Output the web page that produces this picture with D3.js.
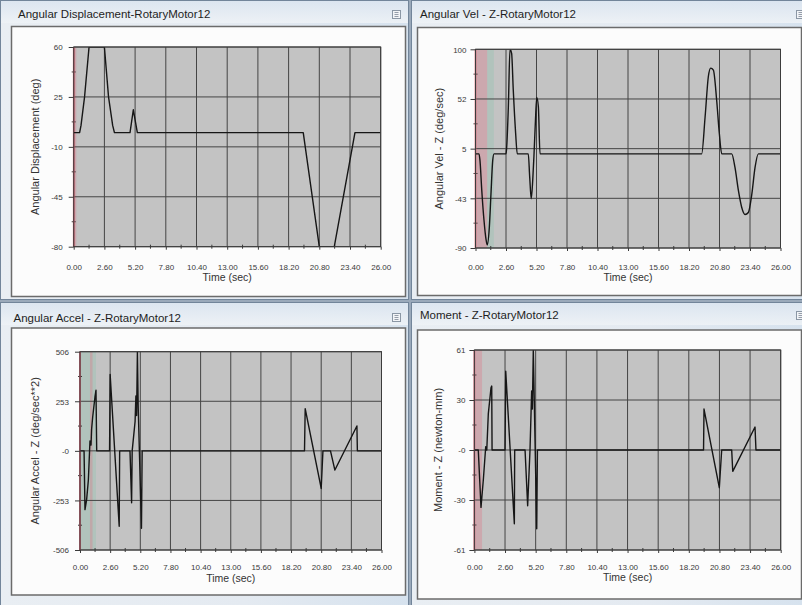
<!DOCTYPE html>
<html>
<head>
<meta charset="utf-8">
<script src="https://cdn.jsdelivr.net/npm/d3@7"></script>
<style>
  html, body { margin: 0; padding: 0; background: #9aa9ba; }
  svg { display: block; }
  text { font-family: "Liberation Sans", Arial, sans-serif; }
</style>
</head>
<body>
<svg id="chart" width="802" height="605"></svg>
<script>
// ---- Shared time axis -------------------------------------------------
const timeTicks = [0, 2.6, 5.2, 7.8, 10.4, 13, 15.6, 18.2, 20.8, 23.4, 26];
const timeTickLabels = ["0.00", "2.60", "5.20", "7.80", "10.40", "13.00", "15.60", "18.20", "20.80", "23.40", "26.00"];
const timeMinorTicks = [1.3, 3.9, 6.5, 9.1, 11.7, 14.3, 16.9, 19.5, 22.1, 24.7];

// ---- Angular displacement (deg) ---------------------------------------
const dispTime  = [0, 0.5, 0.62, 0.92, 1.3, 2.6, 2.95, 3.3, 3.45, 4.77, 5.05, 5.39, 19.44, 20.8, 22.07, 23.82, 26];
const dispValue = [0, 0, 5, 25, 60, 60, 25, 5, 0, 0, 16, 0, 0, -80, -80, 0, 0];
const dispTicks = [-80, -45, -10, 25, 60];
const dispTickLabels = ["-80", "-45", "-10", "25", "60"];

// ---- Angular velocity Z (deg/sec) -------------------------------------
const velTime  = [0, 0.3, 0.38, 0.53, 0.72, 0.9, 1.0, 1.18, 1.32, 1.47, 1.58,
                  2.6, 2.65, 2.8, 2.94, 3.08, 3.22, 3.42, 3.56,
                  4.5, 4.62, 4.75, 4.88, 4.99, 5.1, 5.22, 5.36, 5.5,
                  19.28, 19.57, 19.85, 20.05, 20.28, 20.56, 20.79, 20.99,
                  21.84, 22.12, 22.41, 22.69, 22.98, 23.26, 23.55, 23.83, 24.11, 26];
const velValue = [0, 0, -6, -34, -63, -82, -87, -70, -38, -6, 0,
                  0, 5, 45, 100, 96, 61, 20, 0,
                  0, -22, -43, -25, 0, 29, 54, 45, 0,
                  0, 35, 74, 82, 80, 51, 19, 0,
                  0, -13, -35, -51, -58, -56, -39, -13, 0, 0];
const velTicks = [-90, -42.5, 5, 52.5, 100];
const velTickLabels = ["-90", "-43", "5", "52", "100"];

// ---- Angular acceleration Z (deg/sec**2) ------------------------------
const accelTime  = [0, 0.35, 0.43, 0.57, 0.72, 0.86, 0.95, 1.0, 1.09, 1.29, 1.38, 1.44,
                    2.55, 2.6, 3.38, 3.42,
                    4.31, 4.45, 4.5, 4.75, 4.82, 4.88, 4.95, 5.02, 5.3, 5.36,
                    19.36, 19.42, 20.8, 20.95, 21.6, 21.98, 23.88, 23.92, 26];
const accelValue = [0, 0, -300, -250, -150, 50, 30, 110, 170, 275, 310, 0,
                    0, 390, -385, 0,
                    0, -265, 0, 150, 280, 180, 506, 220, -395, 0,
                    0, 215, -192, 0, 0, -98, 127, 0, 0];
const accelTicks = [-506, -253, 0, 253, 506];
const accelTickLabels = ["-506", "-253", "-0", "253", "506"];

// ---- Moment Z (newton-mm) ---------------------------------------------
const momentTime  = [0, 0.33, 0.56, 0.76, 0.96, 1.05, 1.18, 1.41, 1.47, 1.5,
                     2.6, 2.66, 3.39, 3.42,
                     4.3, 4.52, 4.72, 4.86, 4.92, 5.0, 5.29, 5.35,
                     19.45, 19.49, 20.79, 20.99, 21.84, 21.93, 23.82, 23.9, 26];
const momentValue = [0, 0, -35, -18, 2, 0, 22, 38, 39, 0,
                     0, 48, -45, 0,
                     0, -34, 0, 36, 25, 61, -48, 0,
                     0, 25, -23, 0, 0, -13, 14, 0, 0];
const momentTicks = [-61, -30.5, 0, 30.5, 61];
const momentTickLabels = ["-61", "-30", "-0", "30", "61"];

// ---- Time-cursor shading at the start of each run ---------------------
const dispMarks   = [{ from: 0, to: 0.22, tone: "pink" }];
const velMarks    = [{ from: 0, to: 1.0, tone: "pink" }, { from: 1.0, to: 1.57, tone: "teal" }];
const accelMarks  = [{ from: 0, to: 1.38, tone: "teal" }, { from: 0.86, to: 1.08, tone: "pink" }];
const momentMarks = [{ from: 0, to: 0.65, tone: "pink" }];

// ---- Window layout ----------------------------------------------------
const panels = [
  {
    title: "Angular Displacement-RotaryMotor12", yTitle: "Angular Displacement (deg)",
    time: dispTime, values: dispValue, domain: [-80, 60], ticks: dispTicks, tickLabels: dispTickLabels,
    marks: dispMarks, curve: d3.curveLinear,
    frame: { x: 0, y: 0, w: 409, h: 300 }, titleX: 18, titleY: 18, btnX: 392, btnY: 10,
    box: { x: 11.5, y: 26.5, w: 394, h: 270 },
    plot: { x0: 73.7, x1: 380.7, y0: 47, y1: 246.7 },
    yTitleX: 35, xLabelY: 269.6, xTitleY: 281, yLabelGap: 11
  },
  {
    title: "Angular Vel - Z-RotaryMotor12", yTitle: "Angular Vel - Z (deg/sec)",
    time: velTime, values: velValue, domain: [-90, 100], ticks: velTicks, tickLabels: velTickLabels,
    marks: velMarks, curve: d3.curveMonotoneX,
    frame: { x: 411, y: 0, w: 395, h: 300 }, titleX: 420, titleY: 18, btnX: 796, btnY: 10,
    box: { x: 417.5, y: 27.5, w: 384, h: 268 },
    plot: { x0: 475.5, x1: 780.5, y0: 49.3, y1: 248 },
    yTitleX: 439, xLabelY: 269.6, xTitleY: 280.5, yLabelGap: 9
  },
  {
    title: "Angular Accel - Z-RotaryMotor12", yTitle: "Angular Accel - Z (deg/sec**2)",
    time: accelTime, values: accelValue, domain: [-506, 506], ticks: accelTicks, tickLabels: accelTickLabels,
    marks: accelMarks, curve: d3.curveLinear,
    frame: { x: 0, y: 302, w: 409, h: 306 }, titleX: 13.5, titleY: 321.5, btnX: 392, btnY: 313,
    box: { x: 11.5, y: 328, w: 394, h: 267 },
    plot: { x0: 80, x1: 381.5, y0: 351.7, y1: 550 },
    yTitleX: 35, xLabelY: 569.6, xTitleY: 582, yLabelGap: 11
  },
  {
    title: "Moment - Z-RotaryMotor12", yTitle: "Moment - Z (newton-mm)",
    time: momentTime, values: momentValue, domain: [-61, 61], ticks: momentTicks, tickLabels: momentTickLabels,
    marks: momentMarks, curve: d3.curveLinear,
    frame: { x: 411, y: 302, w: 395, h: 306 }, titleX: 420, titleY: 319, btnX: 796, btnY: 311,
    box: { x: 417.5, y: 330, w: 384, h: 269 },
    plot: { x0: 474.4, x1: 780.7, y0: 350, y1: 550 },
    yTitleX: 438, xLabelY: 569.6, xTitleY: 580.5, yLabelGap: 9
  }
];

const toneFill = { pink: "#e07183", teal: "#86c7ab" };
const toneOpacity = { pink: 0.32, teal: 0.28 };

const svg = d3.select("#chart");
const defs = svg.append("defs");

const frameGrad = defs.append("linearGradient").attr("id", "frameGrad")
  .attr("x1", 0).attr("y1", 0).attr("x2", 1).attr("y2", 0);
frameGrad.append("stop").attr("offset", "0%").attr("stop-color", "#e9eef3");
frameGrad.append("stop").attr("offset", "60%").attr("stop-color", "#e4eaf1");
frameGrad.append("stop").attr("offset", "100%").attr("stop-color", "#d6e2ee");

const titleGrad = defs.append("linearGradient").attr("id", "titleGrad")
  .attr("x1", 0).attr("y1", 0).attr("x2", 0).attr("y2", 1);
titleGrad.append("stop").attr("offset", "0%").attr("stop-color", "#dbe5f0");
titleGrad.append("stop").attr("offset", "100%").attr("stop-color", "#eef2f6");

svg.append("rect").attr("width", 802).attr("height", 605).attr("fill", "#9aa9ba");

panels.forEach((p, i) => {
  const g = svg.append("g");
  const f = p.frame;

  // window frame and title bar
  g.append("rect").attr("x", f.x + 0.5).attr("y", f.y + 0.5).attr("width", f.w - 1).attr("height", f.h - 1)
    .attr("fill", "url(#frameGrad)").attr("stroke", "#72859a");
  g.append("rect").attr("x", f.x + 1).attr("y", f.y + 1).attr("width", f.w - 2).attr("height", 22)
    .attr("fill", "url(#titleGrad)").attr("opacity", 0.9);
  g.append("text").attr("x", p.titleX).attr("y", p.titleY)
    .attr("font-size", 11.5).attr("fill", "#1e1e1e").text(p.title);

  // small menu button at the right of the title bar
  g.append("rect").attr("x", p.btnX + 0.5).attr("y", p.btnY + 0.5).attr("width", 8).attr("height", 8)
    .attr("fill", "#f2f4f7").attr("stroke", "#8b97a5");
  [2.5, 4.5, 6.5].forEach(dy => {
    g.append("line").attr("x1", p.btnX + 2.5).attr("x2", p.btnX + 6.5)
      .attr("y1", p.btnY + dy).attr("y2", p.btnY + dy).attr("stroke", "#7c8794").attr("stroke-width", 0.8);
  });

  // white chart area
  g.append("rect").attr("x", p.box.x).attr("y", p.box.y).attr("width", p.box.w).attr("height", p.box.h)
    .attr("fill", "#fcfcfc").attr("stroke", "#6b6b6b").attr("stroke-width", 1.5);

  const pl = p.plot;
  const x = d3.scaleLinear().domain([0, 26]).range([pl.x0, pl.x1]);
  const y = d3.scaleLinear().domain(p.domain).range([pl.y1, pl.y0]);

  const clipId = "clip" + i;
  defs.append("clipPath").attr("id", clipId).append("rect")
    .attr("x", pl.x0).attr("y", pl.y0).attr("width", pl.x1 - pl.x0).attr("height", pl.y1 - pl.y0);

  const plotG = g.append("g");
  plotG.append("rect").attr("x", pl.x0).attr("y", pl.y0)
    .attr("width", pl.x1 - pl.x0).attr("height", pl.y1 - pl.y0).attr("fill", "#c3c3c3");

  // start-of-run shading
  plotG.selectAll("rect.mark").data(p.marks).join("rect").attr("class", "mark")
    .attr("x", d => x(d.from)).attr("y", pl.y0)
    .attr("width", d => x(d.to) - x(d.from)).attr("height", pl.y1 - pl.y0)
    .attr("fill", d => toneFill[d.tone]).attr("opacity", d => toneOpacity[d.tone]);

  // grid
  plotG.selectAll("line.vgrid").data(timeTicks).join("line").attr("class", "vgrid")
    .attr("x1", d => x(d)).attr("x2", d => x(d)).attr("y1", pl.y0).attr("y2", pl.y1)
    .attr("stroke", "#454545").attr("stroke-width", 1);
  plotG.selectAll("line.hgrid").data(p.ticks).join("line").attr("class", "hgrid")
    .attr("x1", pl.x0).attr("x2", pl.x1).attr("y1", d => y(d)).attr("y2", d => y(d))
    .attr("stroke", "#454545").attr("stroke-width", 1);

  // minor ticks along the bottom and left edges
  plotG.selectAll("line.xminor").data(timeMinorTicks).join("line").attr("class", "xminor")
    .attr("x1", d => x(d)).attr("x2", d => x(d)).attr("y1", pl.y1 - 2).attr("y2", pl.y1 + 2)
    .attr("stroke", "#3a3a3a").attr("stroke-width", 1);
  const yMinor = d3.pairs(p.ticks).map(([a, b]) => (a + b) / 2);
  plotG.selectAll("line.yminor").data(yMinor).join("line").attr("class", "yminor")
    .attr("x1", pl.x0 - 2).attr("x2", pl.x0 + 2).attr("y1", d => y(d)).attr("y2", d => y(d))
    .attr("stroke", "#3a3a3a").attr("stroke-width", 1);

  // time cursor at the start of the run
  plotG.append("line").attr("x1", x(0)).attr("x2", x(0)).attr("y1", pl.y0).attr("y2", pl.y1)
    .attr("stroke", "#d9576a").attr("stroke-width", 1.6);

  // series trace
  const pts = p.time.map((t, k) => [t, p.values[k]]);
  const line = d3.line().x(d => x(d[0])).y(d => y(d[1])).curve(p.curve);
  plotG.append("path").datum(pts).attr("d", line)
    .attr("clip-path", `url(#${clipId})`)
    .attr("fill", "none").attr("stroke", "#161616").attr("stroke-width", 1.4)
    .attr("stroke-linejoin", "round");

  // plot border
  plotG.append("rect").attr("x", pl.x0).attr("y", pl.y0)
    .attr("width", pl.x1 - pl.x0).attr("height", pl.y1 - pl.y0)
    .attr("fill", "none").attr("stroke", "#3c3c3c").attr("stroke-width", 1);

  // x axis
  const xAxis = d3.axisBottom(x).tickValues(timeTicks)
    .tickFormat((d, k) => timeTickLabels[k]).tickSizeInner(3).tickSizeOuter(0);
  const xg = g.append("g").attr("transform", `translate(0,${pl.y1})`).call(xAxis);
  xg.select(".domain").remove();
  xg.selectAll(".tick line").attr("stroke", "#3a3a3a");
  xg.selectAll(".tick text").attr("y", p.xLabelY - pl.y1).attr("dy", 0)
    .attr("font-size", 8).attr("font-family", "Liberation Sans, Arial, sans-serif").attr("fill", "#3a3a3a");

  // y axis
  const yAxis = d3.axisLeft(y).tickValues(p.ticks)
    .tickFormat((d, k) => p.tickLabels[k]).tickSizeInner(5).tickSizeOuter(0).tickPadding(p.yLabelGap - 5);
  const yg = g.append("g").attr("transform", `translate(${pl.x0},0)`).call(yAxis);
  yg.select(".domain").remove();
  yg.selectAll(".tick line").attr("stroke", "#3a3a3a");
  yg.selectAll(".tick text").attr("font-size", 8).attr("dy", "0.35em")
    .attr("font-family", "Liberation Sans, Arial, sans-serif").attr("fill", "#3a3a3a");

  // axis titles
  g.append("text").attr("x", (pl.x0 + pl.x1) / 2).attr("y", p.xTitleY)
    .attr("text-anchor", "middle").attr("font-size", 10.5).attr("fill", "#333").text("Time (sec)");
  g.append("text").attr("transform", `translate(${p.yTitleX},${(pl.y0 + pl.y1) / 2}) rotate(-90)`)
    .attr("text-anchor", "middle").attr("dy", "0.35em").attr("font-size", 11).attr("fill", "#333")
    .text(p.yTitle);
});
</script>
</body>
</html>
